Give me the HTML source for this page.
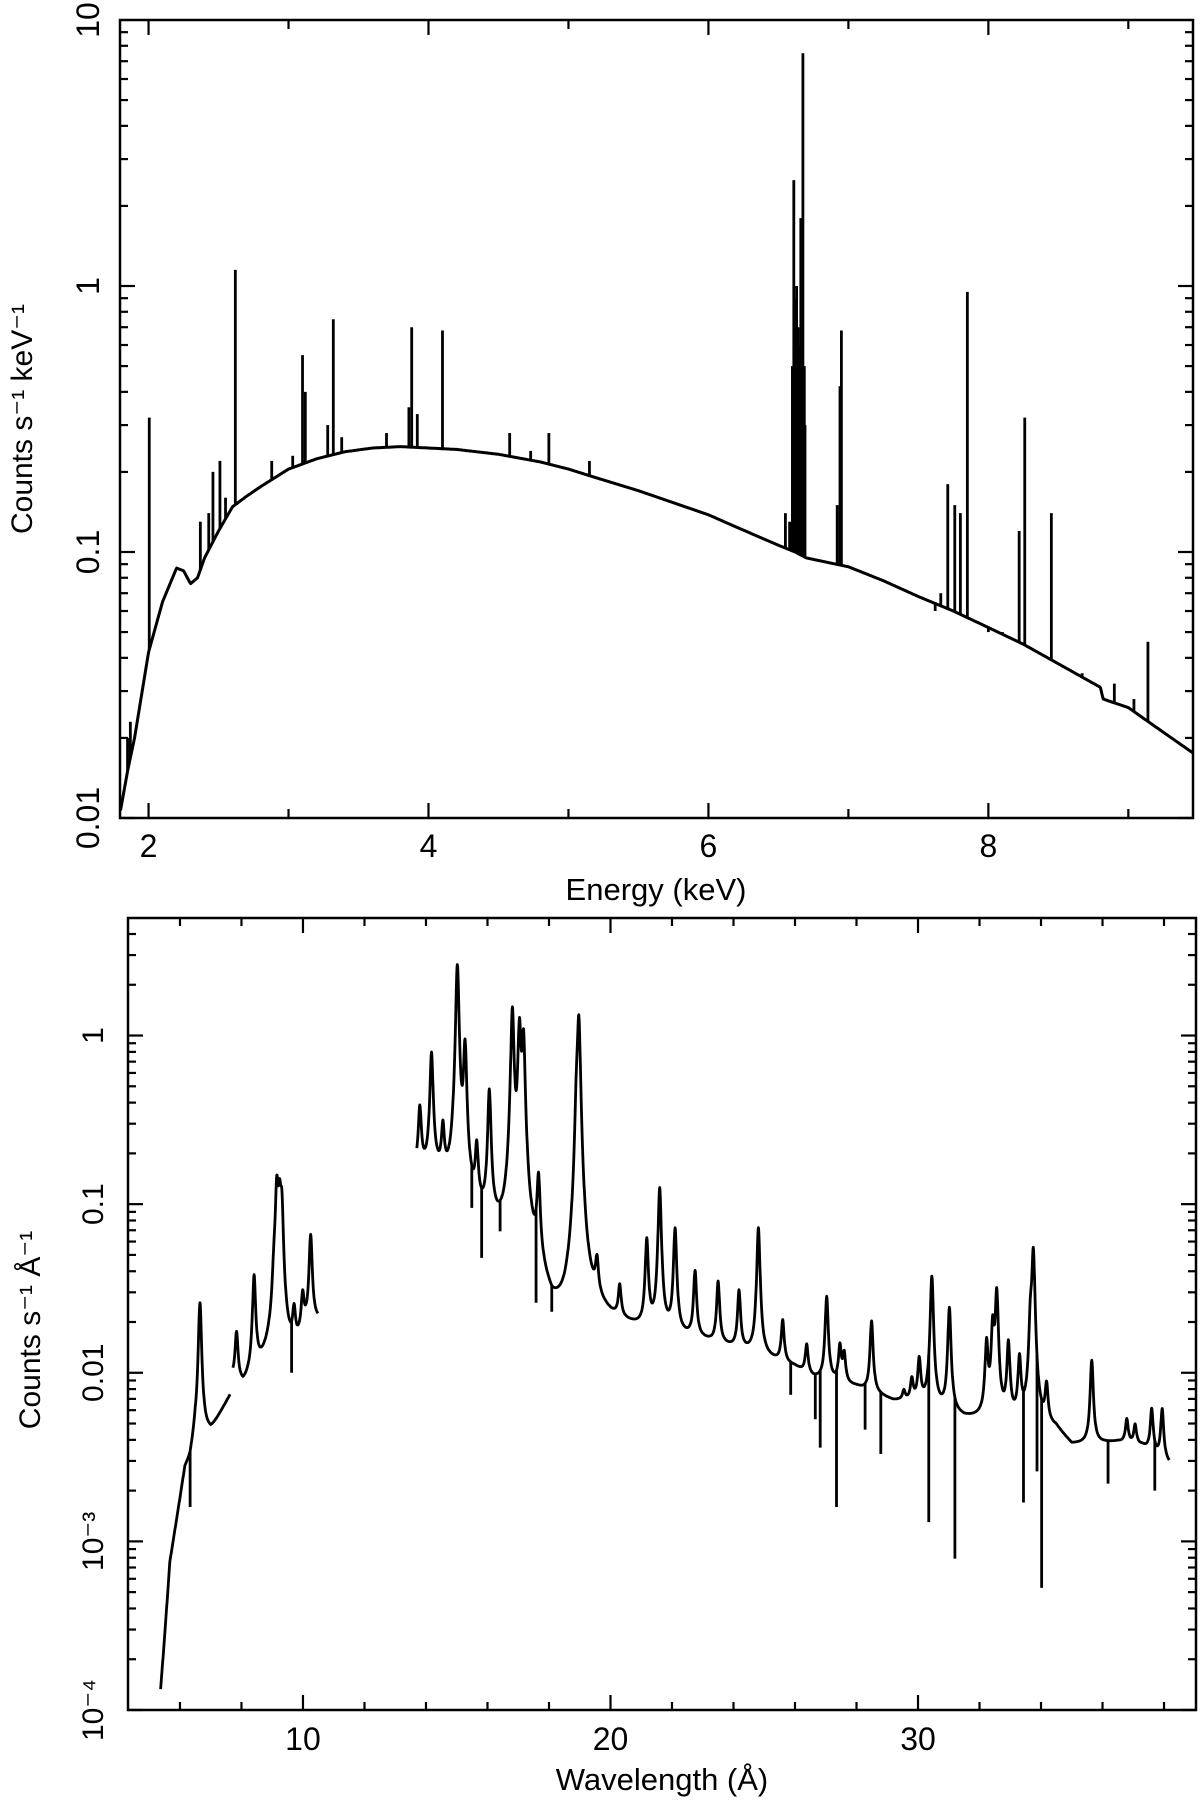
<!DOCTYPE html>
<html><head><meta charset="utf-8"><style>
html,body{margin:0;padding:0;background:#fff;}
svg{display:block;font-family:"Liberation Sans",sans-serif;}
</style></head><body>
<svg id="fig" width="1200" height="1800" viewBox="0 0 1200 1800" xmlns="http://www.w3.org/2000/svg">
<g id="top"></g>
<g id="bot"></g>
</svg>
<script>
// ---------- Top panel data (Energy keV vs counts/s/keV) ----------
const eCont  = [1.80,1.85,1.90,2.00,2.10,2.20,2.25,2.30,2.35,2.40,2.50,2.60,2.70,2.80,3.00,3.20,3.40,3.60,3.80,4.00,4.20,4.50,4.80,5.00,5.20,5.50,5.80,6.00,6.20,6.50,6.62,6.70,7.00,7.25,7.50,7.75,8.00,8.25,8.50,8.80,8.82,9.00,9.25,9.50];
const cCont  = [0.0107,0.015,0.02,0.042,0.065,0.087,0.085,0.076,0.08,0.095,0.12,0.148,0.162,0.176,0.205,0.224,0.238,0.246,0.249,0.246,0.243,0.233,0.218,0.205,0.19,0.17,0.15,0.138,0.124,0.106,0.1,0.095,0.088,0.078,0.068,0.06,0.052,0.045,0.038,0.031,0.028,0.026,0.021,0.017];
const eLines = [1.85,1.87,2.005,2.37,2.43,2.46,2.51,2.55,2.62,2.88,3.03,3.10,3.12,3.28,3.32,3.38,3.70,3.86,3.88,3.92,4.10,4.58,4.73,4.86,5.15,5.44,6.55,6.58,6.60,6.61,6.62,6.63,6.64,6.65,6.66,6.67,6.675,6.685,6.69,6.92,6.94,6.95,7.62,7.66,7.71,7.76,7.80,7.85,8.00,8.10,8.22,8.26,8.45,8.67,8.90,9.04,9.14];
const eLinePeaks = [0.02,0.023,0.32,0.13,0.14,0.2,0.22,0.16,1.15,0.22,0.23,0.55,0.4,0.3,0.75,0.27,0.28,0.35,0.7,0.33,0.68,0.28,0.24,0.28,0.22,0.175,0.14,0.13,0.5,2.5,0.9,1.0,0.7,0.6,1.8,0.8,7.5,0.5,0.3,0.15,0.42,0.68,0.06,0.07,0.18,0.15,0.14,0.95,0.05,0.05,0.12,0.32,0.14,0.035,0.032,0.028,0.046];
const eTicks = ["2","4","6","8"];
const eTickVals = [2,4,6,8];
const cTickLabels = ["0.01","0.1","1","10"];
const cTickVals = [0.01,0.1,1,10];

// ---------- Bottom panel data (Wavelength Å vs counts/s/Å) ----------
const seg1W = [5.37,5.67,6.16,6.33,6.50,7.00,7.63];
const seg1C = [0.0001,0.0007,0.0026,0.0029,0.0042,0.0045,0.0074];
const seg2W = [7.72,8.05,8.70,9.00,9.63,9.80,10.10,10.49];
const seg2C = [0.009,0.008,0.011,0.013,0.013,0.014,0.018,0.02];
const seg3W = [13.70,14.30,14.70,15.50,16.40,17.60,18.10,18.50,19.50,20.0,21.0,22.0,23.0,24.0,25.0,26.0,26.6,28.0,29.2,30.0,31.5,33.0,34.5,35.0,36.5,37.3,38.17];
const seg3C = [0.16,0.15,0.12,0.085,0.06,0.035,0.018,0.016,0.021,0.019,0.017,0.016,0.015,0.0135,0.012,0.0105,0.009,0.008,0.0066,0.0065,0.0052,0.005,0.0045,0.0036,0.0038,0.0036,0.0028];
const wLines = [6.65,7.84,8.41,9.06,9.15,9.24,9.31,9.71,9.99,10.25,
  13.80,14.18,14.55,15.02,15.27,15.65,16.06,16.81,17.04,17.17,17.66,18.90,18.97,19.56,20.30,21.18,21.60,22.10,22.75,23.50,24.18,24.81,
  25.60,26.38,27.03,27.46,27.60,28.49,29.54,29.80,30.04,30.45,31.02,32.23,32.43,32.56,32.94,33.30,33.66,33.75,34.18,35.65,36.79,37.06,37.60,37.94];
const wLinePeaks = [0.026,0.017,0.037,0.029,0.12,0.09,0.087,0.022,0.028,0.065,
  0.37,0.78,0.27,2.6,0.85,0.2,0.46,1.41,1.1,0.93,0.13,0.3,1.23,0.038,0.03,0.06,0.123,0.07,0.039,0.034,0.03,0.072,
  0.02,0.0143,0.028,0.014,0.0125,0.02,0.0075,0.0088,0.0117,0.037,0.024,0.0146,0.018,0.0297,0.0146,0.0117,0.018,0.052,0.008,0.0117,0.0052,0.0048,0.006,0.006];
const wDrops = [6.33,9.63,15.49,15.81,16.41,17.58,18.09,25.86,26.66,26.82,27.35,28.28,28.79,30.35,31.20,33.43,33.87,34.02,36.18,37.70];
const wDropVals = [0.0016,0.01,0.095,0.048,0.069,0.026,0.023,0.0074,0.0053,0.0036,0.0016,0.0046,0.0033,0.0013,0.00079,0.0017,0.0026,0.00053,0.0022,0.002];
const wTicks = ["10","20","30"];
const wTickVals = [10,20,30];
const fTickLabels = ["10\u207B\u2074","10\u207B\u00B3","0.01","0.1","1"];
const fTickVals = [1e-4,1e-3,0.01,0.1,1];

const NS = "http://www.w3.org/2000/svg";
function mk(parent, tag, attrs, text){
  const el = document.createElementNS(NS, tag);
  for (const k in attrs) el.setAttribute(k, attrs[k]);
  if (text !== undefined) el.textContent = text;
  parent.appendChild(el);
  return el;
}
function interpLog(xs, ys, x){
  if (x <= xs[0]) return ys[0];
  if (x >= xs[xs.length-1]) return ys[ys.length-1];
  for (let i=0;i<xs.length-1;i++){
    if (x>=xs[i] && x<=xs[i+1]){
      const t=(x-xs[i])/(xs[i+1]-xs[i]);
      return Math.pow(10, Math.log10(ys[i])*(1-t)+Math.log10(ys[i+1])*t);
    }
  }
  return ys[ys.length-1];
}

// ---------- TOP PANEL ----------
(function(){
  const g = document.getElementById('top');
  const L=120,R=1193,T=20,B=818;
  const x0=1.796,x1=9.462, ly0=-2, ly1=1;
  const X = v => L + (v-x0)/(x1-x0)*(R-L);
  const Y = v => B - (Math.log10(v)-ly0)/(ly1-ly0)*(B-T);
  const cp = mk(g,'clipPath',{id:'clipTop'});
  mk(cp,'rect',{x:L,y:T,width:R-L,height:B-T});
  const data = mk(g,'g',{'clip-path':'url(#clipTop)'});
  
  
  let d='';
  for (let e=x0; e<=x1+0.001; e+=0.005){
    const y=interpLog(eCont,cCont,e);
    d += (d?'L':'M') + X(e).toFixed(1)+','+Y(y).toFixed(1);
  }
  const cont = mk(data,'path',{d:d,fill:'none',stroke:'#000','stroke-width':3,'stroke-linejoin':'round'});
  
  
  for (let i=0;i<eLines.length;i++){
    const base=interpLog(eCont,cCont,eLines[i]);
    const ln = mk(data,'line',{x1:X(eLines[i]),x2:X(eLines[i]),y1:Y(base),y2:Y(eLinePeaks[i]),stroke:'#000','stroke-width':2.8});
    
    
  }
  const frame = mk(g,'rect',{x:L,y:T,width:R-L,height:B-T,fill:'none',stroke:'#000','stroke-width':2.5});
  
  
  const ticks = mk(g,'g',{stroke:'#000','stroke-width':2.2});
  
  
  for (let e=2;e<=9;e++){
    const len = (e%2===0)?15:9;
    mk(ticks,'line',{x1:X(e),x2:X(e),y1:B,y2:B-len});
    mk(ticks,'line',{x1:X(e),x2:X(e),y1:T,y2:T+len});
  }
  for (let p=-2;p<1;p++){
    for (let m=1;m<10;m++){
      const v=m*Math.pow(10,p);
      const len = m===1?15:8;
      mk(ticks,'line',{x1:L,x2:L+len,y1:Y(v),y2:Y(v)});
      mk(ticks,'line',{x1:R,x2:R-len,y1:Y(v),y2:Y(v)});
    }
  }
  for (let i=0;i<eTicks.length;i++){
    const t = mk(g,'text',{x:X(eTickVals[i]),y:857,'font-size':32,'text-anchor':'middle'},eTicks[i]);
    
    
  }
  for (let i=0;i<cTickLabels.length;i++){
    const t = mk(g,'text',{x:0,y:0,'font-size':32,'text-anchor':'middle',transform:`translate(99,${Y(cTickVals[i])}) rotate(-90)`},cTickLabels[i]);
    
    
  }
  const xt = mk(g,'text',{x:656,y:900,'font-size':31,'text-anchor':'middle'},'Energy (keV)');
  
  
  const yt = mk(g,'text',{x:0,y:0,'font-size':30,'text-anchor':'middle',transform:'translate(32,419) rotate(-90)'},'Counts s\u207B\u00B9 keV\u207B\u00B9');
  
  
})();

// ---------- BOTTOM PANEL ----------
(function(){
  const g = document.getElementById('bot');
  const L=128,R=1196,T=918,B=1710;
  const x0=4.31,x1=39.04, ly0=-4, ly1=0.697;
  const X = v => L + (v-x0)/(x1-x0)*(R-L);
  const Y = v => B - (Math.log10(v)-ly0)/(ly1-ly0)*(B-T);
  const cp = mk(g,'clipPath',{id:'clipBot'});
  mk(cp,'rect',{x:L,y:T,width:R-L,height:B-T});
  const data = mk(g,'g',{'clip-path':'url(#clipBot)'});
  
  
  const W=0.05;
  const segs=[[seg1W,seg1C],[seg2W,seg2C],[seg3W,seg3C]];
  function model(ws,cs,l){
    let y=interpLog(ws,cs,l);
    for (let i=0;i<wLines.length;i++){
      const l0=wLines[i];
      if (l0<ws[0]-0.05||l0>ws[ws.length-1]+0.05) continue;
      const amp=Math.max(0,wLinePeaks[i]-interpLog(ws,cs,l0));
      const dx=(l-l0)/W;
      y+=amp/(1+dx*dx);
    }
    return y;
  }
  segs.forEach(([ws,cs])=>{
    let d='';
    for (let l=ws[0]; l<=ws[ws.length-1]+1e-6; l+=0.01){
      d+=(d?'L':'M')+X(l).toFixed(1)+','+Y(model(ws,cs,l)).toFixed(1);
    }
    const p = mk(data,'path',{d:d,fill:'none',stroke:'#000','stroke-width':2.8,'stroke-linejoin':'round'});
    
    
  });
  for (let i=0;i<wDrops.length;i++){
    const l=wDrops[i];
    const seg=segs.find(([ws])=>l>=ws[0]&&l<=ws[ws.length-1]);
    if(!seg) continue;
    const top=model(seg[0],seg[1],l);
    const ln = mk(data,'line',{x1:X(l),x2:X(l),y1:Y(top),y2:Y(wDropVals[i]),stroke:'#000','stroke-width':2.8});
    
    
  }
  const frame = mk(g,'rect',{x:L,y:T,width:R-L,height:B-T,fill:'none',stroke:'#000','stroke-width':2.5});
  
  
  const ticks = mk(g,'g',{stroke:'#000','stroke-width':2.2});
  
  
  for (let l=6;l<=38;l+=2){
    const len=(l%10===0)?15:8;
    mk(ticks,'line',{x1:X(l),x2:X(l),y1:B,y2:B-len});
    mk(ticks,'line',{x1:X(l),x2:X(l),y1:T,y2:T+len});
  }
  for (let p=-4;p<1;p++){
    for (let m=1;m<10;m++){
      const v=m*Math.pow(10,p);
      if (Math.log10(v)>ly1) continue;
      const len=m===1?15:8;
      mk(ticks,'line',{x1:L,x2:L+len,y1:Y(v),y2:Y(v)});
      mk(ticks,'line',{x1:R,x2:R-len,y1:Y(v),y2:Y(v)});
    }
  }
  for (let i=0;i<wTicks.length;i++){
    const t = mk(g,'text',{x:X(wTickVals[i]),y:1750,'font-size':32,'text-anchor':'middle'},wTicks[i]);
    
    
  }
  for (let i=0;i<fTickLabels.length;i++){
    const t = mk(g,'text',{x:0,y:0,'font-size':30,'text-anchor':'middle',transform:`translate(103,${Y(fTickVals[i])}) rotate(-90)`},fTickLabels[i]);
    
    
  }
  const xt = mk(g,'text',{x:662,y:1790,'font-size':31,'text-anchor':'middle'},'Wavelength (\u00C5)');
  
  
  const yt = mk(g,'text',{x:0,y:0,'font-size':30,'text-anchor':'middle',transform:'translate(40,1330) rotate(-90)'},'Counts s\u207B\u00B9 \u00C5\u207B\u00B9');
  
  
})();
</script>
</body></html>
